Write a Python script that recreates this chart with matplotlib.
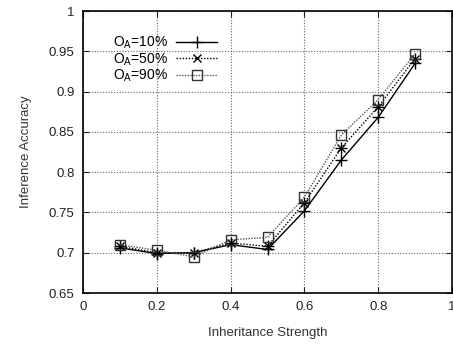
import matplotlib
matplotlib.use("Agg")
import matplotlib.pyplot as plt

plt.rcParams['font.family'] = ['Liberation Sans', 'DejaVu Sans']

x = [0.1, 0.2, 0.3, 0.4, 0.5, 0.6, 0.7, 0.8, 0.9]
oa10 = [0.706, 0.699, 0.700, 0.710, 0.704, 0.752, 0.815, 0.868, 0.935]
oa50 = [0.708, 0.700, 0.700, 0.712, 0.708, 0.762, 0.830, 0.881, 0.941]
oa90 = [0.710, 0.703, 0.695, 0.716, 0.719, 0.769, 0.846, 0.890, 0.947]
labels = [r'O$_\mathregular{A}$=10%', r'O$_\mathregular{A}$=50%', r'O$_\mathregular{A}$=90%']
xticks = [0, 0.2, 0.4, 0.6, 0.8, 1]
yticks = [0.65, 0.7, 0.75, 0.8, 0.85, 0.9, 0.95, 1]

fig = plt.figure(figsize=(4.53, 3.44), dpi=100)
ax = fig.add_axes([83/453, 1-293/344, 369/453, 282/344])

ax.plot(x, oa10, color='black', lw=1.0, ls='-', marker='+', ms=8, mew=1.0, label=labels[0])
ax.plot(x, oa50, color='black', lw=1.0, ls=(0, (1, 1.2)), marker='x', ms=6, mew=1.0, label=labels[1])
ax.plot(x, oa50, color='black', lw=0, marker='+', ms=8, mew=1.0)
ax.plot(x, oa90, color='#555555', lw=1.0, ls=(0, (1, 1)), marker='s', ms=7, mew=1.0,
        mfc='none', mec='#333333', label=labels[2])

ax.set_xlim(0, 1)
ax.set_ylim(0.65, 1)
ax.set_xticks(xticks)
ax.set_xticklabels(['0', '0.2', '0.4', '0.6', '0.8', '1'])
ax.set_yticks(yticks)
ax.set_yticklabels(['0.65', '0.7', '0.75', '0.8', '0.85', '0.9', '0.95', '1'])
ax.tick_params(direction='in', top=True, right=True, length=4, labelsize=9.5, colors='#222222', pad=6)
ax.grid(True, color='#666666', ls=(0, (1, 1.5)), lw=0.8)
for s in ax.spines.values():
    s.set_linewidth(1.2)

ax.set_xlabel('Inheritance Strength', fontsize=9.5, color='#333333', labelpad=10)
ax.set_ylabel('Inference Accuracy', fontsize=9.5, color='#333333', labelpad=12)

leg = ax.legend(loc='upper left', bbox_to_anchor=(0.066, 0.935), frameon=False, markerfirst=False,
                fontsize=10, handlelength=2.9, labelspacing=0.0, handletextpad=0.6,
                borderaxespad=0)
fig.savefig('out.png', dpi=100)
